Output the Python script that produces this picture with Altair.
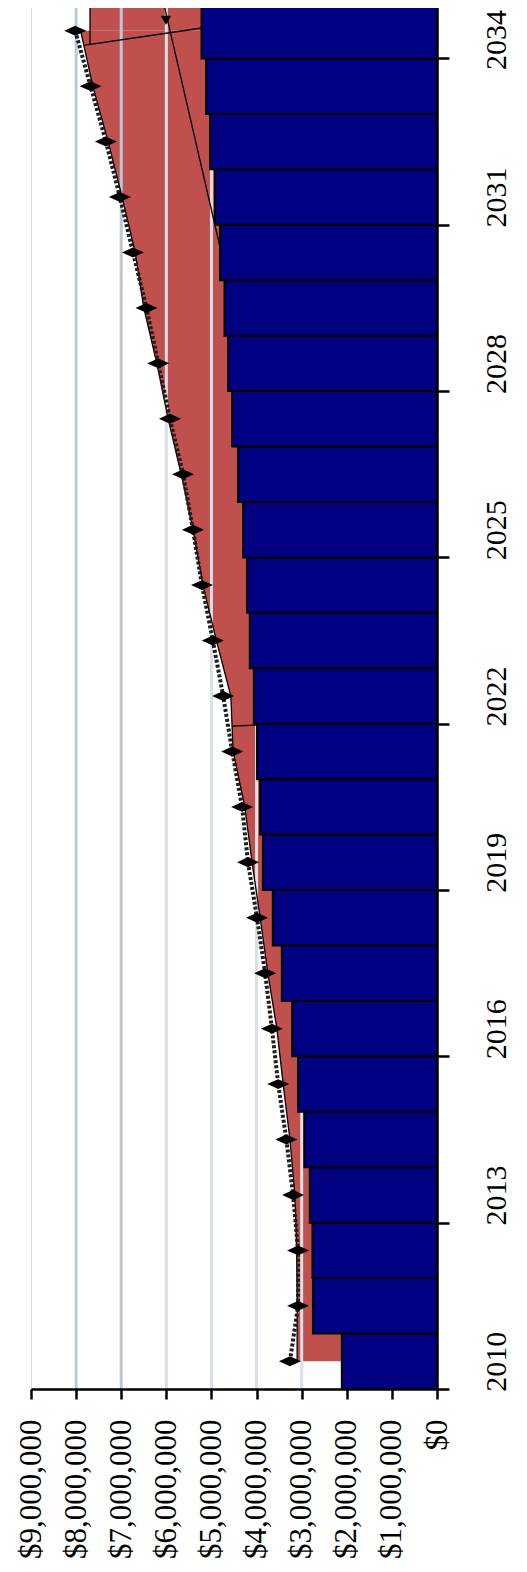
import altair as alt
import pandas as pd

# ---- data (values in $ millions) ----
years = list(range(2010, 2035))
base_cost = [2.11, 2.75, 2.76, 2.82, 2.94, 3.08, 3.21, 3.44, 3.64, 3.86, 3.92, 3.99, 4.06,
             4.15, 4.21, 4.30, 4.41, 4.54, 4.63, 4.71, 4.81, 4.92, 5.03, 5.12, 5.22]
total_cost = [3.10, 3.10, 3.11, 3.15, 3.26, 3.41, 3.55, 3.75, 3.92, 4.10, 4.26, 4.52, 4.57,
              4.89, 5.19, 5.41, 5.67, 5.96, 6.21, 6.50, 6.69, 6.98, 7.29, 7.63, 7.90]
projected = [3.26, 3.08, 3.08, 3.19, 3.34, 3.52, 3.66, 3.81, 3.99, 4.19, 4.32, 4.54, 4.74,
             4.97, 5.21, 5.41, 5.63, 5.92, 6.18, 6.44, 6.74, 7.03, 7.34, 7.68, 8.02]
value_ticks = [0, 1, 2, 3, 4, 5, 6, 7, 8, 9]
grid_values = [1, 2, 3, 4, 5, 6, 7, 8]
year_labels = [2010, 2013, 2016, 2019, 2022, 2025, 2028, 2031, 2034]

# annotation shapes drawn on the original chart (data units)
seg_x1 = [6.074, 7.692, 7.803, 4.522]
seg_x2 = [4.810, 7.692, 5.209, 3.990]
seg_y1 = [2034.55, 2034.55, 2033.742, 2021.459]
seg_y2 = [2030.099, 2033.742, 2034.049, 2021.477]
patch_x1, patch_x2 = [7.692], [5.209]
patch_y1, patch_y2 = [2034.0], [2034.55]
head_x, head_y = [6.008], [2034.19]

M = 1e6
df = pd.DataFrame({
    "year": years,
    "base": [v * M for v in base_cost],
    "total": [v * M for v in total_cost],
    "proj": [v * M for v in projected],
})
grid_df = pd.DataFrame({"g": [v * M for v in grid_values]})
seg_df = pd.DataFrame({"x1": [v * M for v in seg_x1], "x2": [v * M for v in seg_x2],
                       "y1": seg_y1, "y2": seg_y2})
patch_df = pd.DataFrame({"x1": [v * M for v in patch_x1], "x2": [v * M for v in patch_x2],
                         "y1": patch_y1, "y2": patch_y2})
head_df = pd.DataFrame({"x": [v * M for v in head_x], "y": head_y})

RED = "#C0504D"
BLUE = "#000080"
FONT = "Liberation Serif"

x_scale = alt.Scale(domain=[0, 9 * M], reverse=True, nice=False, zero=True)
y_scale = alt.Scale(domain=[2009.5, 2034.5], nice=False, zero=False)

x_axis = alt.Axis(values=[v * M for v in value_ticks], format="$,d", labelAngle=270,
                  labelFont=FONT, labelFontSize=31, labelColor="black",
                  tickSize=10, tickWidth=2.5, tickColor="black",
                  domainColor="black", domainWidth=2.5, labelPadding=20,
                  grid=False, title=None, zindex=1, labelOverlap=False)
y_axis = alt.Axis(orient="right", values=[y - 0.5 for y in year_labels],
                  labelExpr="format(datum.value + 0.5, 'd')",
                  labelOffset={"condition": {"test": "datum.value > 2033", "value": -19},
                               "value": -27.7},
                  labelAngle=270, labelAlign="center", labelBaseline="top",
                  labelFont=FONT, labelFontSize=30, labelColor="black", labelPadding=32,
                  tickSize=12, tickWidth=2.5, tickColor="black",
                  domainColor="black", domainWidth=2.5,
                  grid=False, title=None, zindex=1, labelOverlap=False)


def X(field):
    return alt.X(field, type="quantitative", scale=x_scale, axis=x_axis)


def Y(field):
    return alt.Y(field, type="quantitative", scale=y_scale, axis=y_axis)


base = alt.Chart(df)

area = base.mark_area(orient="horizontal", color=RED).encode(x=X("total"), y=Y("year"))

patch = alt.Chart(patch_df).mark_rect(color=RED, clip=True).encode(
    x=X("x1"), x2="x2", y=Y("y1"), y2="y2")

grid = alt.Chart(grid_df).mark_rule(strokeWidth=3).encode(
    x=X("g"),
    color=alt.condition(alt.datum.g >= 7 * M, alt.value("#B9C9D8"), alt.value("#D9E0E8")))

bars = base.transform_calculate(lo="datum.year - 0.5", hi="datum.year + 0.5").mark_rect(
    color=BLUE, stroke="black", strokeWidth=2).encode(
    x=X("base"), x2=alt.datum(0), y=Y("lo"), y2="hi")

edge = base.mark_line(color="black", strokeWidth=1.3).encode(
    x=X("total"), y=Y("year"), order="year:Q")

proj_line = base.mark_line(color="#1e1e1e", strokeWidth=4, strokeDash=[3, 2]).encode(
    x=X("proj"), y=Y("year"), order="year:Q")

diamonds = base.mark_point(shape="M-1,0L0,-0.45L1,0L0,0.45Z", size=484, filled=True,
                           color="black", opacity=1).encode(x=X("proj"), y=Y("year"))

segs = alt.Chart(seg_df).mark_rule(color="black", strokeWidth=1.3, clip=True).encode(
    x=X("x1"), x2="x2", y=Y("y1"), y2="y2")

head = alt.Chart(head_df).mark_point(shape="triangle-down", filled=True, size=110,
                                     color="black", opacity=1, clip=True).encode(
    x=X("x"), y=Y("y"))

chart = alt.layer(area, patch, grid, bars, edge, proj_line, diamonds, segs, head).properties(
    width=406, height=1386,
    padding={"left": 23, "top": -5, "right": 82, "bottom": 170},
    autosize=alt.AutoSizeParams(type="none"),
).configure_view(stroke="black", strokeWidth=2.5).configure_axis(
    labelFont=FONT).configure(background="white", font=FONT)

chart.save("out.html", embed_options={"renderer": "svg", "actions": False})
